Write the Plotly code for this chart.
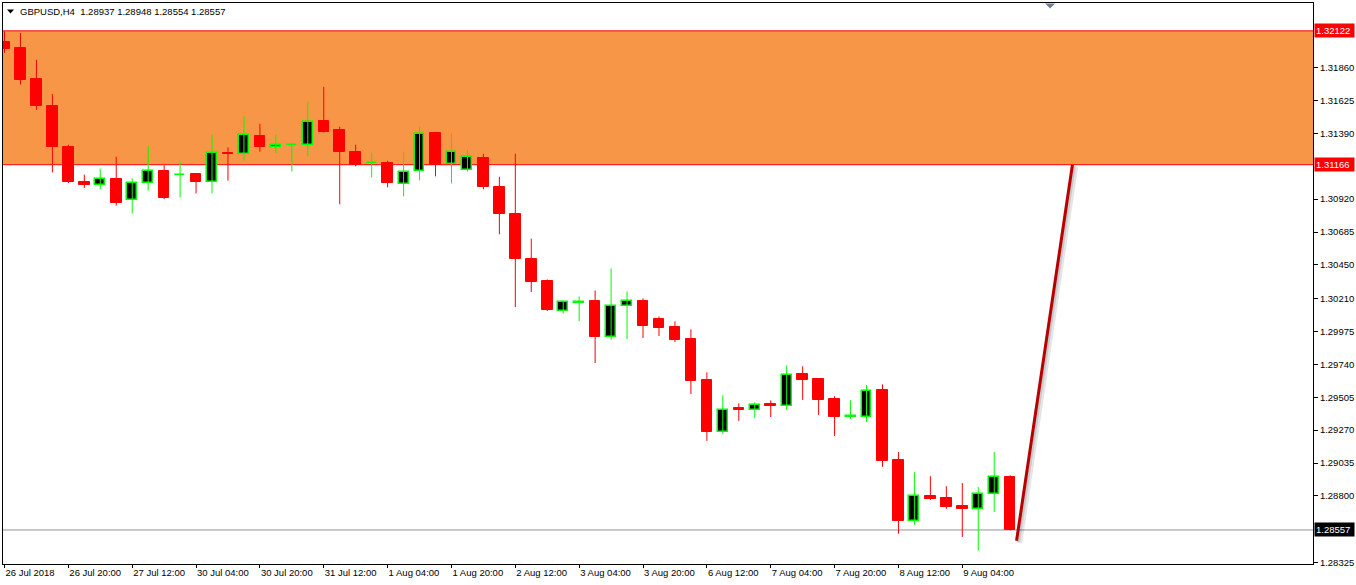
import plotly.graph_objects as go

# ---------------- data ----------------
symbol_header = "GBPUSD,H4  1.28937 1.28948 1.28554 1.28557"

open_ = [1.32043, 1.32000, 1.31779, 1.31587, 1.31294, 1.31040, 1.31021, 1.31066,
         1.30916, 1.31036, 1.31123, 1.31090, 1.31097, 1.31043, 1.31252, 1.31242,
         1.31373, 1.31289, 1.31304, 1.31307, 1.31480, 1.31416, 1.31259, 1.31175,
         1.31180, 1.31028, 1.31121, 1.31394, 1.31171, 1.31128, 1.31216, 1.31009,
         1.30817, 1.30489, 1.30332, 1.30123, 1.30181, 1.30189, 1.29936, 1.30159,
         1.30196, 1.30061, 1.30004, 1.29918, 1.29626, 1.29257, 1.29426, 1.29417,
         1.29455, 1.29446, 1.29669, 1.29633, 1.29490, 1.29364, 1.29366, 1.29555,
         1.29056, 1.28618, 1.28801, 1.28787, 1.28730, 1.28708, 1.28811, 1.28937]
high = [1.32118, 1.32107, 1.31915, 1.31672, 1.31309, 1.31095, 1.31137, 1.31223,
        1.31068, 1.31301, 1.31161, 1.31185, 1.31104, 1.31380, 1.31289, 1.31515,
        1.31458, 1.31380, 1.31318, 1.31615, 1.31722, 1.31437, 1.31309, 1.31252,
        1.31195, 1.31259, 1.31437, 1.31401, 1.31387, 1.31271, 1.31244, 1.31080,
        1.31244, 1.30638, 1.30346, 1.30196, 1.30225, 1.30268, 1.30425, 1.30261,
        1.30211, 1.30082, 1.30047, 1.29990, 1.29683, 1.29519, 1.29462, 1.29469,
        1.29483, 1.29733, 1.29726, 1.29640, 1.29512, 1.29483, 1.29592, 1.29597,
        1.29113, 1.28970, 1.28941, 1.28870, 1.28892, 1.28863, 1.29115, 1.28948]
low = [1.31965, 1.31739, 1.31558, 1.31111, 1.31035, 1.31000, 1.30990, 1.30874,
       1.30817, 1.30981, 1.30920, 1.30933, 1.30961, 1.30961, 1.31052, 1.31195,
       1.31259, 1.31247, 1.31118, 1.31225, 1.31396, 1.30883, 1.31154, 1.31075,
       1.31004, 1.30940, 1.31054, 1.31083, 1.31033, 1.31118, 1.30990, 1.30669,
       1.30149, 1.30256, 1.30122, 1.30102, 1.30049, 1.29749, 1.29915, 1.29920,
       1.29928, 1.29942, 1.29899, 1.29528, 1.29193, 1.29243, 1.29336, 1.29357,
       1.29364, 1.29414, 1.29486, 1.29379, 1.29229, 1.29350, 1.29329, 1.29008,
       1.28530, 1.28594, 1.28772, 1.28708, 1.28507, 1.28409, 1.28685, 1.28554]
close = [1.31993, 1.31774, 1.31582, 1.31289, 1.31040, 1.31018, 1.31064, 1.30895,
         1.31038, 1.31121, 1.30926, 1.31094, 1.31040, 1.31249, 1.31239, 1.31378,
         1.31289, 1.31309, 1.31308, 1.31470, 1.31403, 1.31254, 1.31164, 1.31179,
         1.31033, 1.31114, 1.31385, 1.31164, 1.31257, 1.31221, 1.31004, 1.30812,
         1.30491, 1.30327, 1.30127, 1.30182, 1.30186, 1.29935, 1.30159, 1.30194,
         1.30013, 1.29999, 1.29913, 1.29621, 1.29257, 1.29417, 1.29414, 1.29453,
         1.29443, 1.29667, 1.29628, 1.29486, 1.29364, 1.29369, 1.29553, 1.29051,
         1.28623, 1.28799, 1.28780, 1.28723, 1.28708, 1.28813, 1.28939, 1.28557]

bar_index = list(range(len(open_)))

time_tick_index = [0, 4, 8, 12, 16, 20, 24, 28, 32, 36, 40, 44, 48, 52, 56, 60]
time_tick_labels = ["26 Jul 2018", "26 Jul 20:00", "27 Jul 12:00", "30 Jul 04:00",
                    "30 Jul 20:00", "31 Jul 12:00", "1 Aug 04:00", "1 Aug 20:00",
                    "2 Aug 12:00", "3 Aug 04:00", "3 Aug 20:00", "6 Aug 12:00",
                    "7 Aug 04:00", "7 Aug 20:00", "8 Aug 12:00", "9 Aug 04:00"]

price_ticks = [1.28325, 1.28800, 1.29035, 1.29270, 1.29505, 1.29740,
               1.29975, 1.30210, 1.30450, 1.30685, 1.30920, 1.31390,
               1.31625, 1.31860]
price_tick_labels = ["%.5f" % v for v in price_ticks]

zone_low = 1.31166
zone_high = 1.32122
last_price = 1.28557

trend_x = [63.4, 66.9]
trend_y = [1.28480, 1.31166]

# ---------------- geometry / style ----------------
W, H = 1356, 585
L_M, R_M, T_M, B_M = 2, 41, 2, 21
PW = W - L_M - R_M
PH = H - T_M - B_M


def px2paper(px, py):
    return (px - L_M) / PW, (H - B_M - py) / PH


RED = "#FF0000"
LIME = "#00FF00"
ORANGE = "#F79646"
FONT = "Liberation Sans, Arial, sans-serif"

fig = go.Figure()

bull = [c >= o for o, c in zip(open_, close)]

# wicks
for is_bull, col in [(False, RED), (True, LIME)]:
    wx, wy = [], []
    for i, b in enumerate(bull):
        if b == is_bull:
            wx += [bar_index[i], bar_index[i], None]
            wy += [low[i], high[i], None]
    fig.add_trace(go.Scatter(x=wx, y=wy, mode="lines",
                             line=dict(color=col, width=1),
                             hoverinfo="skip", showlegend=False))

# bodies
bear_x = [bar_index[i] for i in range(len(bull)) if not bull[i]]
bear_base = [close[i] for i in range(len(bull)) if not bull[i]]
bear_h = [open_[i] - close[i] for i in range(len(bull)) if not bull[i]]
bull_x = [bar_index[i] for i in range(len(bull)) if bull[i]]
bull_base = [open_[i] for i in range(len(bull)) if bull[i]]
bull_h = [close[i] - open_[i] for i in range(len(bull)) if bull[i]]

fig.add_trace(go.Bar(x=bear_x, y=bear_h, base=bear_base, width=0.66,
                     marker=dict(color=RED, line=dict(color=RED, width=1)),
                     hoverinfo="skip", showlegend=False))
fig.add_trace(go.Bar(x=bull_x, y=bull_h, base=bull_base, width=0.62,
                     marker=dict(color="#000000", line=dict(color=LIME, width=1.5)),
                     hoverinfo="skip", showlegend=False))

# trend line with soft shadow
fig.add_trace(go.Scatter(x=[v + 0.2 for v in trend_x], y=[v - 0.00015 for v in trend_y],
                         mode="lines", line=dict(color="rgba(0,0,0,0.10)", width=5),
                         hoverinfo="skip", showlegend=False))
fig.add_trace(go.Scatter(x=[v + 0.12 for v in trend_x], y=[v - 0.0001 for v in trend_y],
                         mode="lines", line=dict(color="rgba(0,0,0,0.12)", width=3),
                         hoverinfo="skip", showlegend=False))
fig.add_trace(go.Scatter(x=trend_x, y=trend_y, mode="lines",
                         line=dict(color="#B80000", width=3),
                         hoverinfo="skip", showlegend=False))

shapes = [
    dict(type="rect", xref="paper", yref="y", x0=0, x1=1, y0=zone_low, y1=zone_high,
         fillcolor=ORANGE, line=dict(width=0), layer="below"),
    dict(type="line", xref="paper", yref="y", x0=0, x1=1, y0=zone_low, y1=zone_low,
         line=dict(color=RED, width=1), layer="below"),
    dict(type="line", xref="paper", yref="y", x0=0, x1=1, y0=zone_high, y1=zone_high,
         line=dict(color=RED, width=1), layer="below"),
    dict(type="line", xref="paper", yref="y", x0=0, x1=1, y0=last_price, y1=last_price,
         line=dict(color="#8A949E", width=1), layer="below"),
]


def tri(points, color):
    pts = [px2paper(*p) for p in points]
    path = "M %f %f L %f %f L %f %f Z" % (pts[0] + pts[1] + pts[2])
    return dict(type="path", xref="paper", yref="paper", path=path,
                fillcolor=color, line=dict(width=0))


shapes.append(tri([(6.0, 8.5), (13.0, 8.5), (9.5, 12.5)], "#000000"))
shapes.append(tri([(1046.5, 2.5), (1056.5, 2.5), (1051.5, 7.5)], "#708090"))

hx, hy = px2paper(17, 10.5)
annotations = [
    dict(text=symbol_header, xref="paper", yref="paper", x=hx, y=hy,
         xanchor="left", yanchor="middle", showarrow=False,
         font=dict(family=FONT, size=9.5, color="#000000")),
]
for val, bg in [(zone_high, RED), (zone_low, RED), (last_price, "#000000")]:
    annotations.append(dict(text="%.5f" % val, xref="paper", yref="y", x=1, y=val,
                            xanchor="left", yanchor="middle", xshift=1, showarrow=False,
                            bgcolor=bg, borderpad=1, width=37, align="left",
                            font=dict(family=FONT, size=9.5, color="#FFFFFF")))

fig.update_layout(
    width=W, height=H,
    margin=dict(l=L_M, r=R_M, t=T_M, b=B_M),
    paper_bgcolor="#FFFFFF", plot_bgcolor="#FFFFFF",
    barmode="overlay", bargap=0,
    showlegend=False,
    shapes=shapes, annotations=annotations,
    xaxis=dict(range=[-0.094, 81.97], tickmode="array", tickvals=time_tick_index,
               ticktext=time_tick_labels, ticks="outside", ticklen=3, tickcolor="#000000",
               ticklabelposition="outside right",
               showgrid=False, zeroline=False, showline=True, linecolor="#000000",
               linewidth=1, mirror=True,
               tickfont=dict(family=FONT, size=9.5, color="#000000")),
    yaxis=dict(range=[1.28314, 1.32321], side="right", tickmode="array",
               tickvals=price_ticks, ticktext=price_tick_labels,
               ticks="outside", ticklen=4, tickcolor="#000000",
               showgrid=False, zeroline=False, showline=True, linecolor="#000000",
               linewidth=1, mirror=True,
               tickfont=dict(family=FONT, size=9.5, color="#000000")),
)

fig.write_html("out.html", config={"displayModeBar": False},
               post_script="document.body.style.margin='0px';document.body.style.padding='0px';")
